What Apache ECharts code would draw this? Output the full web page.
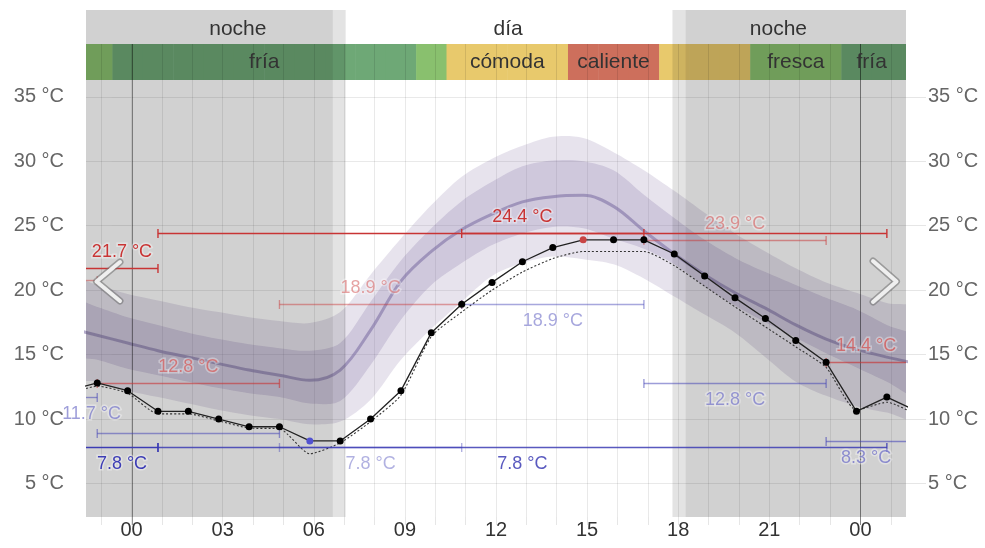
<!DOCTYPE html>
<html><head><meta charset="utf-8">
<script src="https://cdn.jsdelivr.net/npm/echarts@6/dist/echarts.min.js"></script>
<style>html,body{margin:0;padding:0;background:#fff}#c{width:985px;height:548px}</style>
</head><body><div id="c"></div>
<script>
// ---------------- data ----------------
const hours = [-2,-1,0,1,2,3,4,5,6,7,8,9,10,11,12,13,14,15,16,17,18,19,20,21,22,23,24,25,26];
const observedTemp = [12.2,12.8,12.2,10.6,10.6,10.0,9.4,9.4,8.3,8.3,10.0,12.2,16.7,18.9,20.6,22.2,23.3,23.9,23.9,23.9,22.8,21.1,19.4,17.8,16.1,14.4,10.6,11.7,10.6];
const dottedTemp   = [11.9,12.55,12.0,10.4,10.4,9.85,9.3,9.25,7.3,8.15,9.8,11.85,16.4,18.3,20.0,21.4,22.45,23.0,23.0,23.0,21.9,20.3,18.7,17.15,15.6,14.0,10.7,11.3,10.3];
const medianTemp   = [17.1,16.5,15.9,15.3,14.8,14.3,13.8,13.4,13.0,13.8,16.9,20.7,23.0,24.7,25.9,26.85,27.25,27.35,26.5,24.6,22.8,21.2,19.8,18.6,17.3,16.2,15.4,14.8,14.3];
const innerHigh    = [19.3,18.7,17.9,17.3,16.7,16.2,15.8,15.5,15.3,15.9,19.1,22.3,24.8,26.9,28.4,29.6,30.05,30.0,29.3,27.4,25.6,23.9,22.5,21.4,20.4,19.4,18.5,17.3,16.2];
const innerLow     = [15.1,14.6,13.9,13.4,12.9,12.4,12.0,11.7,11.2,11.4,14.2,17.7,20.4,22.1,23.5,24.4,24.9,24.8,24.0,23.2,22.0,20.3,18.8,17.5,16.3,15.1,14.0,12.9,11.8];
const outerHigh    = [20.9,20.4,19.7,19.2,18.7,18.3,17.9,17.6,17.45,18.3,21.2,24.0,26.6,28.8,30.2,31.2,31.9,31.8,30.7,29.3,27.7,26.0,24.4,23.0,21.7,20.6,19.8,19.0,18.5];
const outerLow     = [13.3,12.9,12.2,11.7,11.2,10.7,10.3,10.0,9.6,9.8,11.5,14.6,17.0,19.1,21.1,22.1,22.6,22.4,22.0,20.9,19.5,18.1,16.7,14.8,12.9,11.8,11.0,10.5,10.0];

const comfortHours = [-1,0,1,2,3,4,5,6,7,8,9,10,11,12,13,14,15,16,17,18,19,20,21,22,23,24,25,26];
const comfortClass = ['fresca','fría','fría','fría','fría','fría','fría','fría','fría','fría','fría','fresca',
  'cómoda','cómoda','cómoda','cómoda','caliente','caliente','caliente','cómoda','cómoda','cómoda',
  'fresca','fresca','fresca','fría','fría','fría'];
const comfortLabelText = ['fría','cómoda','caliente','fresca','fría'];
const comfortLabelHour = [4.5,12.5,16,22,24.5];

const dayNightText = ['noche','día','noche'];
const dayNightHour = [3.5,12.4,21.3];
const nightSpans = [[-3,6.63],[18.24,28]];
const twilightSpans = [[6.63,7.05],[17.81,18.24]];
const midnightHours = [0,24];

const maxBarStart = [-2,-2,1,11,5,-1,17,23];
const maxBarEnd   = [-1,1,25,17,11,5,23,27];
const maxBarValue = [20.8,21.7,24.4,24.4,18.9,12.8,23.9,14.4];
const maxBarLabelled = [false,true,true,false,true,true,true,true];
const minBarStart = [-2,-1,-2,1,5,11,17,23];
const minBarEnd   = [-1,5,1,25,11,17,23,27];
const minBarValue = [11.7,8.9,7.8,7.8,7.8,18.9,12.8,8.3];
const minBarLabelled = [true,false,true,true,true,true,true,true];

const yTickValues = [5,10,15,20,25,30,35];
const xLabelHours = [0,3,6,9,12,15,18,21,24];
const gridHours = [-1,0,1,2,3,4,5,6,7,8,9,10,11,12,13,14,15,16,17,18,19,20,21,22,23,24,25];

// ---------------- styles / layout ----------------
const TIME_OFFSET = -0.13;
const X_MIN = -1.5, X_MAX = 25.5, Y_MIN = 2.4, Y_MAX = 36.3;
const FONT = '"Liberation Sans", Arial, Helvetica, sans-serif';
const comfortColor = {'fría':'#6ea876','fresca':'#89c06e','cómoda':'#e8c96c','caliente':'#cd6f5c'};
const maxBarAlpha = [0.45,1,1,1,0.45,0.6,0.5,0.65];
const minBarAlpha = [0.5,0.5,1,0.85,0.4,0.45,0.5,0.55];
const RED = '200,52,52', BLUE = '60,60,180';
const NIGHT = 'rgba(0,0,0,0.18)', TWILIGHT = 'rgba(0,0,0,0.11)';

const X = h => h + TIME_OFFSET;
const pts = arr => hours.map((h,i) => [X(h), arr[i]]);

function clipOf(cs) { return {type:'rect', shape:{x:cs.x, y:cs.y, width:cs.width, height:cs.height}}; }

function bandSeries(high, low, fill) {
  return {
    type:'custom', xAxisIndex:0, yAxisIndex:0, z:2, silent:true, data:[0],
    renderItem(params, api) {
      const cs = params.coordSys;
      const upper = hours.map((h,i) => api.coord([X(h), high[i]]));
      const lower = hours.map((h,i) => api.coord([X(h), low[i]])).reverse();
      return {type:'group', clipPath:clipOf(cs),
        children:[{type:'polygon', shape:{points:upper.concat(lower), smooth:0.3}, style:{fill}}]};
    }
  };
}
function spanSeries(axisIdx, yIdx, spans, fill, z) {
  return {
    type:'custom', xAxisIndex:axisIdx, yAxisIndex:yIdx, z, silent:true, data:spans,
    renderItem(params, api) {
      const cs = params.coordSys;
      let x1 = api.coord([api.value(0), 0])[0], x2 = api.coord([api.value(1), 0])[0];
      x1 = Math.max(x1, cs.x); x2 = Math.min(x2, cs.x + cs.width);
      if (x2 <= x1) return null;
      return {type:'rect', shape:{x:x1, y:cs.y, width:x2-x1, height:cs.height}, style:{fill}};
    }
  };
}
function midnightSeries(axisIdx, yIdx, extra, z) {
  return {
    type:'custom', xAxisIndex:axisIdx, yAxisIndex:yIdx, z, silent:true, data:midnightHours,
    renderItem(params, api) {
      const cs = params.coordSys;
      const x = Math.round(api.coord([api.value(0), 0])[0]) + 0.5;
      return {type:'line', shape:{x1:x, y1:cs.y, x2:x, y2:cs.y+cs.height+extra}, style:{stroke:'rgba(0,0,0,0.42)', lineWidth:1}};
    }
  };
}
function textSeries(axisIdx, yIdx, texts, hrs, shift, dy, z) {
  return {
    type:'custom', xAxisIndex:axisIdx, yAxisIndex:yIdx, z, silent:true, data:hrs.map((h,i)=>[h+shift, i]),
    renderItem(params, api) {
      const cs = params.coordSys;
      const x = api.coord([api.value(0), 0])[0];
      return {type:'text', x, y:cs.y + cs.height/2 + dy,
        style:{text:texts[api.value(1)], fill:'#333', font:'21px ' + FONT,
          align:'center', verticalAlign:'middle', textAlign:'center', textVerticalAlign:'middle'}};
    }
  };
}
function barSeries(starts, ends, values, labelled, alphas, rgb, dir, z) {
  return {
    type:'custom', xAxisIndex:0, yAxisIndex:0, z, silent:true,
    data: starts.map((s,i) => [X(s), X(ends[i]), values[i], i]),
    renderItem(params, api) {
      const cs = params.coordSys;
      const i = api.value(3);
      const p1 = api.coord([api.value(0), api.value(2)]);
      const p2 = api.coord([api.value(1), api.value(2)]);
      const xL = Math.max(p1[0], cs.x), xR = Math.min(p2[0], cs.x + cs.width);
      const y = Math.round(p1[1]) + 0.5;
      const col = 'rgba(' + rgb + ',' + alphas[i] + ')';
      const ch = [{type:'line', shape:{x1:xL, y1:y, x2:xR, y2:y}, style:{stroke:col, lineWidth:1.4}}];
      [p1[0], p2[0]].forEach(x => {
        if (x >= cs.x && x <= cs.x + cs.width)
          ch.push({type:'line', shape:{x1:x, y1:y-4.5, x2:x, y2:y+4.5}, style:{stroke:col, lineWidth:1.4}});
      });
      if (labelled[i]) {
        const txt = values[i].toFixed(1) + ' °C';
        const base = {x:(xL+xR)/2, y:y + dir*16.5};
        const common = {text:txt, font:'18px ' + FONT, align:'center', verticalAlign:'middle', textAlign:'center', textVerticalAlign:'middle'};
        ch.push(Object.assign({type:'text', z2:9}, base, {style:Object.assign({}, common, {fill:'rgba(255,255,255,0.35)', stroke:'rgba(255,255,255,0.35)', lineWidth:3})}));
        ch.push(Object.assign({type:'text', z2:10}, base, {style:Object.assign({}, common, {fill:col})}));
      }
      return {type:'group', children:ch};
    }
  };
}

const obsMin = Math.min(...observedTemp), obsMax = Math.max(...observedTemp);
const obsMinIdx = observedTemp.indexOf(obsMin), obsMaxIdx = observedTemp.indexOf(obsMax);

const chart = echarts.init(document.getElementById('c'), null, {renderer:'canvas'});
const baseX = {type:'value', min:X_MIN, max:X_MAX};
chart.setOption({
  animation:false,
  textStyle:{fontFamily:FONT},
  grid:[
    {left:86, right:79, top:80, bottom:31},
    {left:86, right:79, top:10, height:34},
    {left:86, right:79, top:44, height:36}
  ],
  xAxis:[
    Object.assign({}, baseX, {gridIndex:0,
      axisLine:{show:false},
      axisTick:{show:true, customValues:gridHours, length:8, lineStyle:{color:'#e6e6e6'}},
      axisLabel:{customValues:xLabelHours, color:'#333', fontSize:20, margin:3,
        formatter:v => String(((Math.round(v)%24)+24)%24).padStart(2,'0')},
      splitLine:{show:true, lineStyle:{color:'rgba(0,0,0,0.085)'}}}),
    Object.assign({}, baseX, {gridIndex:1, show:false}),
    Object.assign({}, baseX, {gridIndex:2, z:3,
      axisLine:{show:false}, axisLabel:{show:false},
      axisTick:{show:false, customValues:gridHours},
      splitLine:{show:true, lineStyle:{color:'rgba(0,0,0,0.1)'}}})
  ],
  yAxis:[
    {type:'value', gridIndex:0, position:'left', min:Y_MIN, max:Y_MAX,
      axisLine:{show:false},
      axisTick:{show:true, customValues:yTickValues, length:20, lineStyle:{color:'#e6e6e6'}},
      axisLabel:{customValues:yTickValues, color:'#666', fontSize:20, margin:22, formatter:v => v + ' °C'},
      splitLine:{show:true, lineStyle:{color:'rgba(0,0,0,0.085)'}}},
    {type:'value', gridIndex:0, position:'right', min:Y_MIN, max:Y_MAX,
      axisLine:{show:false},
      axisTick:{show:true, customValues:yTickValues, length:20, lineStyle:{color:'#e6e6e6'}},
      axisLabel:{customValues:yTickValues, color:'#666', fontSize:20, margin:22, formatter:v => v + ' °C'},
      splitLine:{show:false}},
    {type:'value', gridIndex:1, min:0, max:1, show:false},
    {type:'value', gridIndex:2, min:0, max:1, show:false}
  ],
  series:[
    // climatology bands
    bandSeries(outerHigh, outerLow, 'rgba(110,90,150,0.17)'),
    bandSeries(innerHigh, innerLow, 'rgba(110,90,150,0.2)'),
    {type:'line', xAxisIndex:0, yAxisIndex:0, data:pts(medianTemp), symbol:'none', smooth:0.35, lineStyle:{width:3, color:'rgba(120,105,160,0.55)'}, silent:true, z:2},
    // night shading main
    spanSeries(0, 0, nightSpans, NIGHT, 3),
    spanSeries(0, 0, twilightSpans, TWILIGHT, 3),
    midnightSeries(0, 0, 8, 3),
    // dotted line
    {type:'line', xAxisIndex:0, yAxisIndex:0, data:pts(dottedTemp), symbol:'none', smooth:0.2, lineStyle:{width:1.1, color:'#333', type:[2,2]}, silent:true, z:4},
    // max / min bars
    barSeries(maxBarStart, maxBarEnd, maxBarValue, maxBarLabelled, maxBarAlpha, RED, -1, 5),
    barSeries(minBarStart, minBarEnd, minBarValue, minBarLabelled, minBarAlpha, BLUE, 1, 5),
    // observed line
    {type:'line', xAxisIndex:0, yAxisIndex:0, data:pts(observedTemp), symbol:'circle', symbolSize:7, showAllSymbol:true,
      lineStyle:{width:1.3, color:'#222'},
      itemStyle:{color:p => p.dataIndex === obsMinIdx ? '#5252d0' : (p.dataIndex === obsMaxIdx ? '#c84444' : '#000')},
      silent:true, z:6},
    // noche / día row
    spanSeries(1, 2, nightSpans, NIGHT, 2),
    spanSeries(1, 2, twilightSpans, TWILIGHT, 2),
    textSeries(1, 2, dayNightText, dayNightHour, 0, 2, 5),
    // comfort bar
    {type:'custom', xAxisIndex:2, yAxisIndex:3, z:2, silent:true,
      data: comfortHours.map((h,i) => [X(h)-0.5, X(h)+0.5, i]),
      renderItem(params, api) {
        const cs = params.coordSys;
        let x1 = api.coord([api.value(0), 0])[0], x2 = api.coord([api.value(1), 0])[0];
        x1 = Math.max(x1, cs.x); x2 = Math.min(x2, cs.x + cs.width);
        if (x2 <= x1) return null;
        return {type:'rect', shape:{x:x1, y:cs.y, width:Math.min(x2-x1+0.5, cs.x+cs.width-x1), height:cs.height}, style:{fill:comfortColor[comfortClass[api.value(2)]]}};
      }},
    spanSeries(2, 3, nightSpans, NIGHT, 4),
    spanSeries(2, 3, twilightSpans, TWILIGHT, 4),
    midnightSeries(2, 3, 0, 4),
    textSeries(2, 3, comfortLabelText, comfortLabelHour, TIME_OFFSET, 0, 5)
  ],
  graphic:[
    {type:'polyline', z:100, silent:true, shape:{points:[[120,262],[96.5,281.5],[120,301]]}, style:{stroke:'rgba(110,110,110,0.55)', lineWidth:7, fill:null, lineCap:'round', lineJoin:'round'}},
    {type:'polyline', z:101, silent:true, shape:{points:[[120,262],[96.5,281.5],[120,301]]}, style:{stroke:'#efefef', lineWidth:4, fill:null, lineCap:'round', lineJoin:'round'}},
    {type:'polyline', z:100, silent:true, shape:{points:[[873,261],[896.5,281.5],[873,302]]}, style:{stroke:'rgba(110,110,110,0.55)', lineWidth:7, fill:null, lineCap:'round', lineJoin:'round'}},
    {type:'polyline', z:101, silent:true, shape:{points:[[873,261],[896.5,281.5],[873,302]]}, style:{stroke:'#efefef', lineWidth:4, fill:null, lineCap:'round', lineJoin:'round'}}
  ]
});
</script>
</body></html>
